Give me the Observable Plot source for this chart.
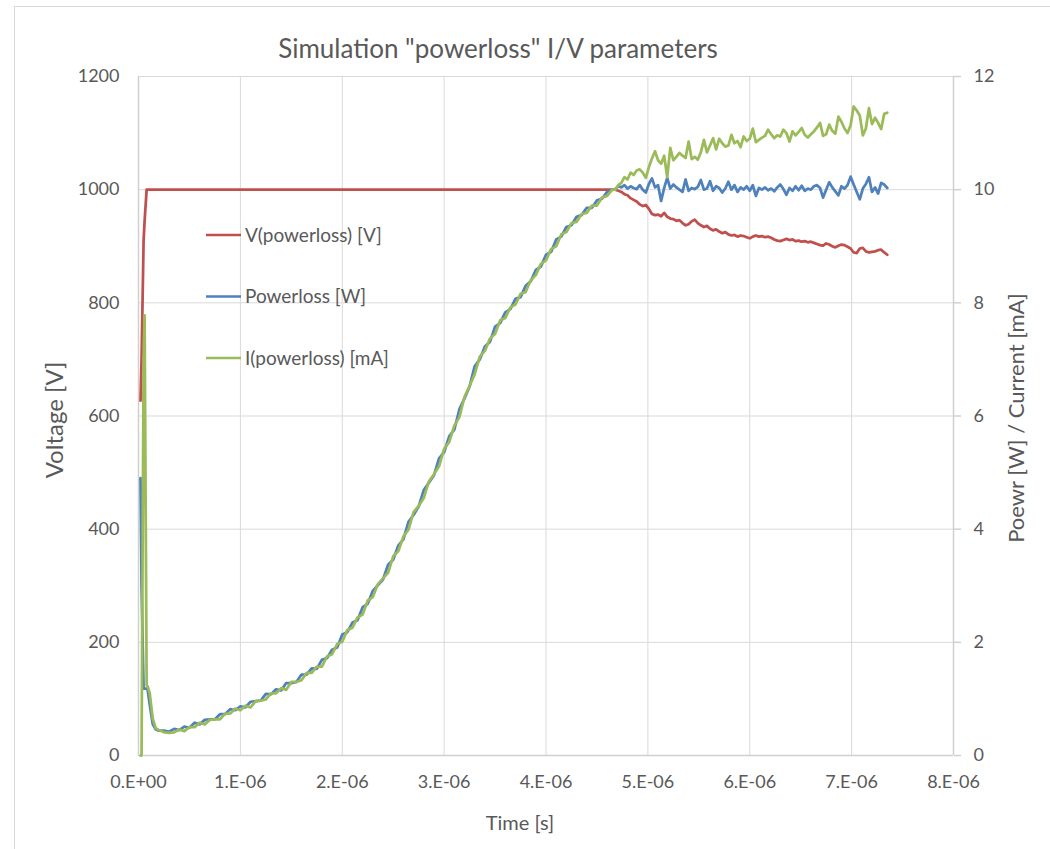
<!DOCTYPE html>
<html>
<head>
<meta charset="utf-8">
<script src="https://cdn.jsdelivr.net/npm/d3@7"></script>
<script src="https://cdn.jsdelivr.net/npm/@observablehq/plot@0.6"></script>
<style>
  body { margin: 0; background: #ffffff; }
  #wrap { position: relative; width: 1050px; height: 849px; overflow: hidden; background: #ffffff; }
  #wrap svg { display: block; position: absolute; left: 0; top: 0; }
  .frame { position: absolute; left: 14px; top: 6px; width: 1100px; height: 900px; border: 1px solid #d9d9d9; }
</style>
</head>
<body>
<div id="wrap"><div class="frame"></div></div>
<script>
// Time axis in microseconds (tick labels are printed in seconds)
const startTime = [0.02, 0.03, 0.05, 0.06, 0.08, 0.09, 0.11, 0.14, 0.17, 0.20];
const rampTime = [
  0.25, 0.30, 0.35, 0.40, 0.45, 0.50, 0.55, 0.60, 0.65, 0.70,
  0.75, 0.80, 0.85, 0.90, 0.95, 1.00, 1.05, 1.10, 1.15, 1.20,
  1.25, 1.30, 1.35, 1.40, 1.45, 1.50, 1.55, 1.60, 1.65, 1.70,
  1.75, 1.80, 1.85, 1.90, 1.95, 2.00, 2.05, 2.10, 2.15, 2.20,
  2.25, 2.30, 2.35, 2.40, 2.45, 2.50, 2.55, 2.60, 2.65, 2.70,
  2.75, 2.80, 2.85, 2.90, 2.95, 3.00, 3.05, 3.10, 3.15, 3.20,
  3.25, 3.30, 3.35, 3.40, 3.45, 3.50, 3.55, 3.60, 3.65, 3.70,
  3.75, 3.80, 3.85, 3.90, 3.95, 4.00, 4.05, 4.10, 4.15, 4.20,
  4.25, 4.30, 4.35, 4.40, 4.45, 4.50, 4.55, 4.60, 4.65
];
const tailTime = [
  4.68, 4.71, 4.74, 4.77, 4.80, 4.83, 4.86, 4.89, 4.92, 4.95,
  4.98, 5.01, 5.04, 5.07, 5.10, 5.13, 5.16, 5.19, 5.22, 5.25,
  5.28, 5.31, 5.34, 5.37, 5.40, 5.43, 5.46, 5.49, 5.52, 5.55,
  5.58, 5.61, 5.64, 5.67, 5.70, 5.73, 5.76, 5.79, 5.82, 5.85,
  5.88, 5.91, 5.94, 5.97, 6.00, 6.03, 6.06, 6.09, 6.12, 6.15,
  6.18, 6.21, 6.24, 6.27, 6.30, 6.33, 6.36, 6.39, 6.42, 6.45,
  6.48, 6.51, 6.54, 6.57, 6.60, 6.63, 6.66, 6.69, 6.72, 6.75,
  6.78, 6.81, 6.84, 6.87, 6.90, 6.93, 6.96, 6.99, 7.02, 7.05,
  7.08, 7.11, 7.14, 7.17, 7.20, 7.23, 7.26, 7.29, 7.32, 7.35
];

// V(powerloss) [V]: start-up edge, then flat at 1000 V until the tail
const startVoltage = [627, 700, 910, 945, 1000, 1000, 1000, 1000, 1000, 1000];
const tailVoltage = [
  1000, 998, 996, 992, 990, 985, 982, 979, 974, 971,
  973, 966, 957, 955, 956, 953, 959, 952, 949, 948,
  945, 946, 941, 937, 939, 944, 947, 941, 937, 934,
  936, 931, 928, 930, 926, 923, 925, 921, 919, 920,
  917, 919, 918, 916, 914, 917, 919, 917, 918, 916,
  917, 915, 912, 910, 909, 911, 913, 911, 912, 909,
  910, 908, 909, 907, 908, 906, 904, 902, 901, 905,
  903, 900, 898, 901, 903, 902, 899, 896, 889, 888,
  896, 897, 891, 889, 890, 891, 893, 894, 889, 885
];

// Powerloss [W]
const startPower = [4.90, 3.00, 1.18, 1.18, 1.18, 1.16, 0.90, 0.55, 0.46, 0.44];
const rampPower = [
  0.44, 0.42, 0.47, 0.45, 0.51, 0.49, 0.58, 0.55, 0.63, 0.64,
  0.64, 0.73, 0.73, 0.82, 0.80, 0.87, 0.85, 0.95, 0.96, 0.97,
  1.09, 1.08, 1.17, 1.15, 1.28, 1.28, 1.30, 1.43, 1.43, 1.54,
  1.53, 1.69, 1.72, 1.87, 1.91, 2.14, 2.18, 2.35, 2.39, 2.62,
  2.68, 2.91, 3.01, 3.11, 3.37, 3.46, 3.71, 3.82, 4.13, 4.25,
  4.40, 4.69, 4.82, 4.95, 5.25, 5.36, 5.64, 5.76, 6.12, 6.31,
  6.52, 6.88, 7.00, 7.23, 7.31, 7.58, 7.64, 7.83, 7.89, 8.07,
  8.10, 8.30, 8.38, 8.58, 8.64, 8.85, 8.90, 9.12, 9.17, 9.34,
  9.37, 9.52, 9.55, 9.68, 9.68, 9.81, 9.84, 9.96, 10.00
];
const tailPower = [
  10.01, 10.06, 10.04, 10.08, 10.02, 10.06, 10.03, 10.01, 10.08, 10.00,
  9.95, 10.10, 10.20, 10.04, 10.08, 9.80, 10.03, 10.21, 10.02, 10.09,
  10.04, 10.00, 9.96, 10.18, 9.98, 10.03, 10.01, 10.05, 10.17, 10.00,
  10.02, 10.15, 9.98, 10.06, 10.03, 9.95, 10.02, 10.14, 10.00, 10.08,
  9.96, 10.04, 10.00, 10.06, 9.98, 10.08, 9.89, 10.03, 10.00, 10.04,
  9.99, 10.02, 9.97, 10.04, 10.09, 10.01, 9.91, 10.03, 9.98, 10.06,
  9.99, 10.07, 9.98, 10.02, 10.00, 10.06, 10.08, 10.03, 9.86, 10.00,
  10.13, 10.04, 9.97, 9.90, 10.06, 10.02, 10.08, 10.23, 10.09, 9.96,
  9.83, 10.02, 10.10, 10.22, 9.96, 10.04, 9.93, 10.12, 10.09, 10.03
];

// I(powerloss) [mA]
const startCurrent = [0, 0, 7.00, 7.78, 1.24, 1.22, 1.10, 0.65, 0.48, 0.45];
const rampCurrent = [
  0.41, 0.40, 0.41, 0.46, 0.43, 0.50, 0.50, 0.58, 0.55, 0.63,
  0.64, 0.64, 0.74, 0.74, 0.83, 0.80, 0.88, 0.85, 0.96, 0.97,
  0.99, 1.10, 1.10, 1.19, 1.16, 1.30, 1.30, 1.33, 1.46, 1.46,
  1.57, 1.57, 1.75, 1.79, 1.97, 2.01, 2.22, 2.26, 2.44, 2.49,
  2.74, 2.80, 3.03, 3.13, 3.23, 3.52, 3.61, 3.87, 3.99, 4.30,
  4.41, 4.55, 4.84, 4.97, 5.11, 5.42, 5.54, 5.83, 5.98, 6.34,
  6.53, 6.74, 7.05, 7.15, 7.37, 7.45, 7.69, 7.73, 7.92, 7.97,
  8.16, 8.19, 8.40, 8.49, 8.69, 8.75, 8.95, 9.00, 9.21, 9.25,
  9.41, 9.43, 9.57, 9.59, 9.72, 9.72, 9.86, 9.89, 10.00
];
const tailCurrent = [
  10.00, 10.08, 10.12, 10.22, 10.18, 10.30, 10.26, 10.34, 10.36, 10.30,
  10.21, 10.40, 10.55, 10.68, 10.52, 10.46, 10.60, 10.22, 10.74, 10.52,
  10.58, 10.65, 10.60, 10.56, 10.85, 10.54, 10.58, 10.53, 10.66, 10.88,
  10.66, 10.78, 10.91, 10.71, 10.90, 10.82, 10.76, 10.78, 10.97, 10.82,
  10.86, 10.75, 10.94, 10.86, 10.90, 11.08, 10.84, 10.88, 10.92, 10.95,
  11.06, 10.98, 10.91, 10.96, 10.94, 11.06, 11.00, 10.85, 11.03, 10.96,
  11.02, 11.09, 10.97, 10.92, 10.98, 11.03, 11.10, 11.18, 10.95, 10.98,
  11.15, 11.04, 10.99, 11.29, 11.20, 11.08, 11.00, 11.14, 11.47, 11.40,
  11.31, 10.96, 11.08, 11.44, 11.16, 11.27, 11.18, 11.07, 11.34, 11.36
];

// Axis ticks
const timeTicks = [0, 1, 2, 3, 4, 5, 6, 7, 8];
const timeTickLabels = ["0.E+00", "1.E-06", "2.E-06", "3.E-06", "4.E-06", "5.E-06", "6.E-06", "7.E-06", "8.E-06"];
const voltTicks = [0, 200, 400, 600, 800, 1000, 1200];
const rightTickLabels = ["0", "2", "4", "6", "8", "10", "12"];

const seriesNames = ["V(powerloss) [V]", "Powerloss [W]", "I(powerloss) [mA]"];
const seriesColors = ["#c0504d", "#4f81bd", "#9bbb59"];

// The right axis (W / mA) is drawn on the voltage scale: 10 on the right = 1000 on the left
const rightFactor = 100;

const fullTime = [...startTime, ...rampTime, ...tailTime];
const voltageValues = [...startVoltage, ...tailVoltage];
const voltageRows = [...startTime, ...tailTime].map((t, i) => ({t, v: voltageValues[i]}));
const powerValues = [...startPower, ...rampPower, ...tailPower];
const currentValues = [...startCurrent, ...rampCurrent, ...tailCurrent];
const powerRows = fullTime.map((t, i) => ({t, v: powerValues[i] * rightFactor}));
const currentRows = fullTime.map((t, i) => ({t, v: currentValues[i] * rightFactor}));

const font = "Lato, 'Open Sans', sans-serif";
const textColor = "#595959";
const lineWidth = 2.75;

const chart = Plot.plot({
  width: 1050,
  height: 849,
  marginLeft: 138,
  marginRight: 97,
  marginTop: 76,
  marginBottom: 94,
  style: {fontFamily: font, fontSize: "18px", color: textColor, background: "transparent", overflow: "visible"},
  x: {domain: [0, 8]},
  y: {domain: [0, 1200]},
  marks: [
    Plot.gridX(timeTicks, {stroke: "#d9d9d9", strokeOpacity: 1}),
    Plot.gridY(voltTicks, {stroke: "#d9d9d9", strokeOpacity: 1}),
    Plot.ruleX([0], {stroke: "#d0d0d0", strokeWidth: 1.5}),
    Plot.ruleX([8], {stroke: "#d0d0d0", strokeWidth: 1.5}),
    Plot.ruleY([0], {stroke: "#d0d0d0", strokeWidth: 1.5}),
    Plot.axisX(timeTicks, {tickSize: 0, tickPadding: 20, tickFormat: d => timeTickLabels[timeTicks.indexOf(d)], label: null}),
    Plot.axisY(voltTicks, {tickSize: 0, tickPadding: 19, tickFormat: d => String(d), label: null}),
    Plot.axisY(voltTicks, {anchor: "right", tickSize: 7, tickPadding: 13, stroke: "#d0d0d0", strokeWidth: 1.5,
      tickFormat: d => rightTickLabels[voltTicks.indexOf(d)], label: null}),
    Plot.line(voltageRows, {x: "t", y: "v", stroke: seriesColors[0], strokeWidth: lineWidth, strokeLinejoin: "round"}),
    Plot.line(powerRows, {x: "t", y: "v", stroke: seriesColors[1], strokeWidth: lineWidth, strokeLinejoin: "round"}),
    Plot.line(currentRows, {x: "t", y: "v", stroke: seriesColors[2], strokeWidth: lineWidth, strokeLinejoin: "round"})
  ]
});

const wrap = document.getElementById("wrap");
wrap.appendChild(chart);

const svg = d3.select(chart);

// Title and axis titles
svg.append("text")
  .attr("x", 498).attr("y", 58)
  .attr("text-anchor", "middle")
  .attr("fill", textColor)
  .style("font-family", font).style("font-size", "26px")
  .text('Simulation "powerloss" I/V parameters');

svg.append("text")
  .attr("transform", "translate(63,420) rotate(-90)")
  .attr("text-anchor", "middle")
  .attr("fill", textColor)
  .style("font-family", font).style("font-size", "24px")
  .text("Voltage [V]");

svg.append("text")
  .attr("transform", "translate(1024,418) rotate(-90)")
  .attr("text-anchor", "middle")
  .attr("fill", textColor)
  .style("font-family", font).style("font-size", "22px")
  .text("Poewr [W] / Current [mA]");

svg.append("text")
  .attr("x", 520).attr("y", 830)
  .attr("text-anchor", "middle")
  .attr("fill", textColor)
  .style("font-family", font).style("font-size", "20px")
  .text("Time [s]");

// Legend inside the plot area
const legend = svg.append("g").attr("text-anchor", "start");
seriesNames.forEach((name, i) => {
  const y = 235 + i * 61.5;
  legend.append("line")
    .attr("x1", 206).attr("x2", 241).attr("y1", y).attr("y2", y)
    .attr("stroke", seriesColors[i]).attr("stroke-width", 2.5);
  legend.append("text")
    .attr("x", 245).attr("y", y + 6.5)
    .attr("text-anchor", "start")
    .attr("fill", textColor)
    .style("font-family", font).style("font-size", "19px")
    .text(name);
});
</script>
</body>
</html>
